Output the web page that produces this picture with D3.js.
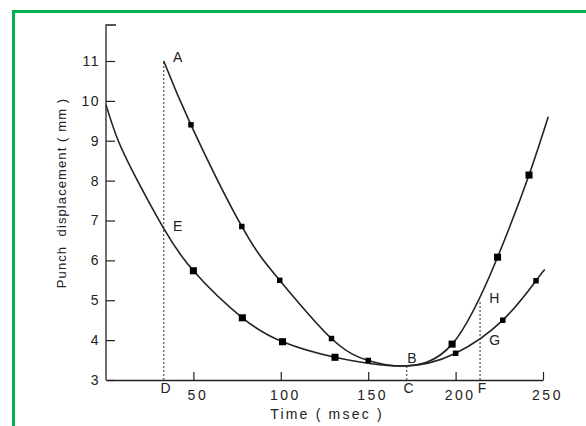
<!DOCTYPE html>
<html>
<head>
  <meta charset="utf-8">
  <title>Punch displacement</title>
  <script src="https://d3js.org/d3.v7.min.js"></script>
  <style>
    body { margin: 0; background: #fff; }
    text { font-family: "Liberation Sans", Arial, sans-serif; fill: #222; }
  </style>
</head>
<body>
  <script>
    // curve A (upper): [time, mm]
    const upperCurve = [[33, 11.0], [48.6, 9.4], [77.7, 6.85], [99.4, 5.5], [129, 4.04],
      [150, 3.49], [170, 3.35], [198, 3.9], [224, 6.08], [242, 8.14], [253, 9.6]];
    const upperMarks = [[48.6, 9.4], [77.7, 6.85], [99.4, 5.5], [129, 4.04], [150, 3.49],
      [198, 3.9], [224, 6.08], [242, 8.14]];

    // curve E (lower)
    const lowerCurve = [[0, 9.9], [7, 9.0], [18, 8.0], [33, 6.8], [50, 5.74], [78, 4.56],
      [101, 3.96], [131, 3.57], [170, 3.35], [200, 3.67], [227, 4.5], [246, 5.49], [251, 5.77]];
    const lowerMarks = [[50, 5.74], [78, 4.56], [101, 3.96], [131, 3.57], [200, 3.67],
      [227, 4.5], [246, 5.49]];

    const xTicks = [50, 100, 150, 200, 250];
    const yTicks = [3, 4, 5, 6, 7, 8, 9, 10, 11];

    // dashed guides: [time, top value, label at foot]
    const guides = [[33, 11.0, "D"], [172, 3.35, "C"], [214, 5.0, "F"]];
    // point labels: [letter, time, mm]
    const pointLabels = [["A", 36, 11.1], ["E", 36, 6.85], ["B", 170, 3.55], ["H", 217, 5.05], ["G", 217, 4.0]];

    const width = 586, height = 426;
    const svg = d3.select("body").append("svg")
      .attr("width", width).attr("height", height);

    // green frame
    svg.append("path")
      .attr("d", "M13.5,426 V11.5 H586")
      .attr("fill", "none").attr("stroke", "#00b050").attr("stroke-width", 3);

    const x = d3.scaleLinear().domain([0, 250]).range([106, 543]);
    const y = d3.scaleLinear().domain([3, 11]).range([380, 61]);

    const ink = "#222";

    // y axis with top hook
    svg.append("path")
      .attr("d", `M${x(0)},${y(3)} V25 H116`)
      .attr("fill", "none").attr("stroke", ink).attr("stroke-width", 1.3);
    const yAxis = svg.append("g").attr("transform", `translate(${x(0)},0)`)
      .call(d3.axisRight(y).tickValues(yTicks).tickSize(9).tickSizeOuter(0));
    yAxis.select(".domain").remove();
    yAxis.selectAll(".tick line").attr("stroke", ink).attr("stroke-width", 1.2);
    yAxis.selectAll(".tick text").attr("x", -6).attr("text-anchor", "end")
      .attr("font-size", 14).attr("letter-spacing", 1.5).attr("fill", ink);

    // x axis, ticks pointing up
    const xAxis = svg.append("g").attr("transform", `translate(0,${y(3)})`)
      .call(d3.axisTop(x).tickValues(xTicks).tickSize(8).tickSizeOuter(0));
    xAxis.select(".domain").attr("stroke", ink).attr("stroke-width", 1.3);
    xAxis.selectAll(".tick line").attr("stroke", ink).attr("stroke-width", 1.2);
    xAxis.selectAll(".tick text").attr("y", 20).attr("dx", 4)
      .attr("font-size", 14).attr("letter-spacing", 2.5).attr("fill", ink);

    svg.append("text").attr("x", 327).attr("y", 419).attr("text-anchor", "middle")
      .attr("font-size", 14).attr("letter-spacing", 2.2).attr("xml:space", "preserve")
      .text("Time ( msec )");
    svg.append("text")
      .attr("transform", "translate(66,193) rotate(-90)")
      .attr("text-anchor", "middle").attr("font-size", 13).attr("letter-spacing", 1.1)
      .attr("xml:space", "preserve")
      .text("Punch  displacement ( mm )");

    // guides
    svg.selectAll(".guide").data(guides).enter().append("line")
      .attr("x1", d => x(d[0])).attr("x2", d => x(d[0]))
      .attr("y1", y(3)).attr("y2", d => y(d[1]))
      .attr("stroke", "#666").attr("stroke-width", 1.4).attr("stroke-dasharray", "2,2");
    svg.selectAll(".guideLabel").data(guides).enter().append("text")
      .attr("x", d => x(d[0]) + 2).attr("y", 393)
      .attr("text-anchor", "middle").attr("font-size", 14).text(d => d[2]);

    const line = d3.line().x(d => x(d[0])).y(d => y(d[1])).curve(d3.curveNatural);
    [upperCurve, lowerCurve].forEach(c => {
      svg.append("path").attr("d", line(c))
        .attr("fill", "none").attr("stroke", ink).attr("stroke-width", 1.6);
    });

    const sym = d3.symbol().type(d3.symbolSquare);
    svg.selectAll(".mu").data(upperMarks).enter().append("path")
      .attr("transform", d => `translate(${x(d[0])},${y(d[1])})`)
      .attr("d", (d, i) => sym.size(i < 5 ? 30 : 50)()).attr("fill", "#000");
    svg.selectAll(".ml").data(lowerMarks).enter().append("path")
      .attr("transform", d => `translate(${x(d[0])},${y(d[1])})`)
      .attr("d", (d, i) => sym.size(i < 4 ? 50 : 30)()).attr("fill", "#000");

    svg.selectAll(".pl").data(pointLabels).enter().append("text")
      .attr("x", d => x(d[1]) + 4).attr("y", d => y(d[2]) + 5)
      .attr("font-size", 14).text(d => d[0]);
  </script>
</body>
</html>
